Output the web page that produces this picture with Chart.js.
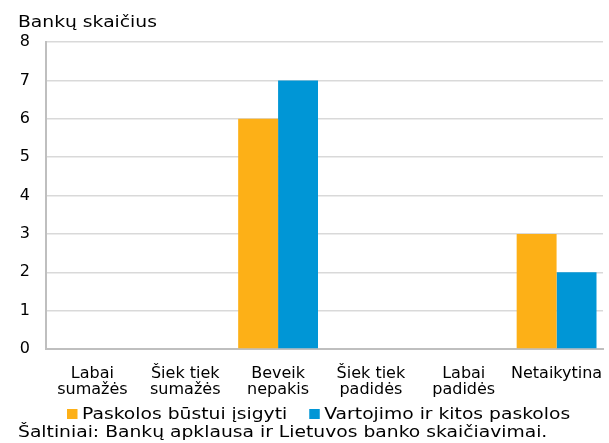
<!DOCTYPE html>
<html><head><meta charset="utf-8">
<script src="https://cdn.jsdelivr.net/npm/chart.js@4"></script>
<style>html,body{margin:0;padding:0;background:#fff}#wrap{width:609px;height:443px}</style>
</head><body><div id="wrap"><canvas id="c" width="609" height="443"></canvas></div>
<script>
const categories = [["Labai","sumažės"],["Šiek tiek","sumažės"],["Beveik","nepakis"],["Šiek tiek","padidės"],["Labai","padidės"],"Netaikytina"];
const housingLoans = [0,0,6,0,0,3];
const consumerLoans = [0,0,7,0,0,2];
const seriesNames = ["Paskolos būstui įsigyti","Vartojimo ir kitos paskolos"];
const yTitle = "Bankų skaičius";
const sourceText = "Šaltiniai: Bankų apklausa ir Lietuvos banko skaičiavimai.";
const FONT = "'DejaVu Sans', Verdana, sans-serif";
Chart.defaults.font.family = FONT;

const SX = 1.135;
function stretchedText(ctx, text, x, y, font) {
  ctx.save();
  ctx.font = font;
  ctx.translate(x, y);
  ctx.scale(SX, 1);
  ctx.fillText(text, 0, 0);
  ctx.restore();
  return ctx.measureText ? null : null;
}

const extraTexts = {
  id: 'extraTexts',
  afterDraw(chart) {
    const ctx = chart.ctx;
    ctx.save();
    ctx.textBaseline = 'alphabetic';
    ctx.textAlign = 'left';
    ctx.fillStyle = '#000';
    const f = "16.5px " + FONT;
    ctx.font = f;
    // title
    stretchedText(ctx, chart.options.plugins.title.text, 18, 27, f);
    // legend
    let x = 67;
    chart.data.datasets.forEach((d) => {
      ctx.fillStyle = d.backgroundColor;
      ctx.fillRect(x, 409, 10.5, 10);
      ctx.fillStyle = '#000';
      stretchedText(ctx, d.label, x + 15, 419, f);
      ctx.font = f;
      x += 15 + ctx.measureText(d.label).width * SX + 22;
    });
    // source
    stretchedText(ctx, sourceText, 18, 437, f);
    ctx.restore();
  }
};

new Chart(document.getElementById('c'), {
  type: 'bar',
  data: {
    labels: categories,
    datasets: [
      {label: seriesNames[0], data: housingLoans, backgroundColor: '#FDB017', borderWidth: 0},
      {label: seriesNames[1], data: consumerLoans, backgroundColor: '#0096D6', borderWidth: 0}
    ]
  },
  plugins: [extraTexts],
  options: {
    responsive: false, animation: false, devicePixelRatio: 1,
    categoryPercentage: 0.86, barPercentage: 1.0,
    layout: {padding: {left: 18, right: 6, top: 0, bottom: 38.5}},
    plugins: {
      title: {display: true, text: yTitle, align: 'start', color: 'rgba(0,0,0,0)', font: {size: 18.5, weight: 'normal', lineHeight: 1.2}, padding: {top: 9.5, bottom: 10.3}},
      legend: {display: false},
      tooltip: {enabled: false}
    },
    scales: {
      x: {
        grid: {display: false, drawTicks: false},
        border: {display: true, color: '#BFBFBF', width: 2},
        ticks: {color: '#000', font: {size: 16, lineHeight: 1.05}, maxRotation: 0, autoSkip: false, padding: 16},
        afterFit(scale) { scale.height = 55.5; scale.paddingLeft = 0; scale.paddingRight = 0; }
      },
      y: {
        min: 0, max: 8,
        grid: {color: '#D9D9D9', lineWidth: 1.5, drawTicks: false},
        border: {display: true, color: '#BFBFBF', width: 2},
        ticks: {stepSize: 1, color: '#000', font: {size: 16}, padding: 16},
        afterFit(scale) { scale.width = 28; }
      }
    }
  }
});
</script></body></html>
